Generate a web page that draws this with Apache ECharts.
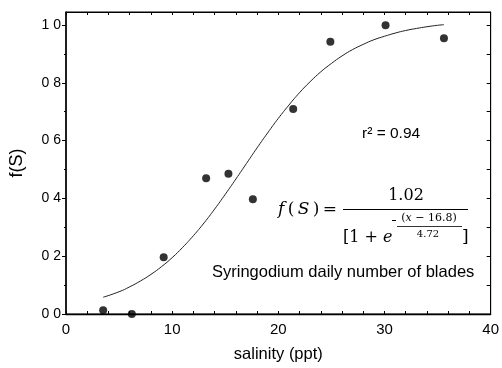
<!DOCTYPE html>
<html>
<head>
<meta charset="utf-8">
<script src="https://cdn.jsdelivr.net/npm/echarts@6/dist/echarts.min.js"></script>
<style>html,body{margin:0;padding:0;background:#fff}#c{width:502px;height:368px}</style>
</head>
<body>
<div id="c"></div>
<script>
// observed data points (salinity ppt, f(S))
const salinity = [3.5, 6.2, 9.2, 13.2, 15.3, 17.6, 21.4, 24.9, 30.1, 35.6];
const fS = [0.013, 0.0, 0.196, 0.47, 0.485, 0.397, 0.709, 0.942, 0.999, 0.954];
// fitted curve
const curveX = [3.5, 5, 6, 7, 8, 9, 10, 11, 12, 13, 14, 15, 16, 17, 18, 19, 20, 21, 22, 23, 24, 25, 26, 27, 28, 29, 30, 31, 32, 33, 34, 35, 35.6];
const curveY = [0.058, 0.077, 0.094, 0.114, 0.137, 0.164, 0.195, 0.231, 0.271, 0.315, 0.363, 0.414, 0.467, 0.521, 0.575, 0.627, 0.677, 0.723, 0.766, 0.804, 0.838, 0.867, 0.893, 0.915, 0.933, 0.949, 0.961, 0.972, 0.981, 0.988, 0.994, 0.999, 1.001];
const xTicks = [0, 10, 20, 30, 40];
const yTicks = [0, 0.2, 0.4, 0.6, 0.8, 1.0];
const yAllTicks = [0, 0.1, 0.2, 0.3, 0.4, 0.5, 0.6, 0.7, 0.8, 0.9, 1.0];
const yLabelText = ['0 0', '0 2', '0 4', '0 6', '0 8', '1 0'];

const chart = echarts.init(document.getElementById('c'));
const FONT = 'Liberation Sans';
const MATH = 'DejaVu Serif';
const blk = {color: '#000', width: 1};
const curveData = curveX.map((x, i) => [x, curveY[i]]);
const ptData = salinity.map((x, i) => [x, fS[i]]);

chart.setOption({
  animation: false,
  backgroundColor: '#fff',
  grid: {left: 62, right: 7, top: 12, bottom: 53, containLabel: false,
    show: true, borderColor: '#000', borderWidth: 1, backgroundColor: 'transparent'},
  xAxis: [
    {type: 'value', position: 'bottom', min: 0, max: 40, interval: 10,
      axisLine: {show: true, onZero: false, lineStyle: {color: '#000', width: 1.3}}, splitLine: {show: false},
      axisTick: {show: true, inside: true, length: 3, lineStyle: {color: '#000'}},
      minorTick: {show: true, splitNumber: 5, length: 3, lineStyle: {color: '#000'}},
      axisLabel: {color: '#000', fontFamily: FONT, fontSize: 15, margin: 8,
        customValues: xTicks, formatter: v => String(Math.round(v))},
      name: 'salinity (ppt)', nameLocation: 'middle', nameGap: 32,
      nameTextStyle: {color: '#000', fontFamily: FONT, fontSize: 16.5}},
    {type: 'value', position: 'top', min: 0, max: 40, interval: 2,
      axisLine: {show: true, onZero: false, lineStyle: blk}, splitLine: {show: false},
      axisTick: {show: true, inside: true, length: 3, lineStyle: {color: '#000'}},
      axisLabel: {show: false}}
  ],
  yAxis: [
    {type: 'value', position: 'left', min: 0, max: 1.045, interval: 0.2,
      axisLine: {show: true, onZero: false, lineStyle: {color: '#000', width: 1.5}}, splitLine: {show: false},
      axisTick: {show: true, inside: false, length: 4, customValues: yTicks, lineStyle: {color: '#000'}},
      minorTick: {show: true, splitNumber: 2, length: 2, lineStyle: {color: '#000'}},
      axisLabel: {color: '#000', fontFamily: FONT, fontSize: 14, margin: 5,
        customValues: yTicks,
        formatter: v => yLabelText[Math.round(v * 5)] || ''},
      name: 'f(S)', nameLocation: 'middle', nameGap: 40, nameRotate: 90,
      nameTextStyle: {color: '#000', fontFamily: FONT, fontSize: 18}},
    {type: 'value', position: 'right', min: 0, max: 1.045, interval: 0.1,
      axisLine: {show: true, onZero: false, lineStyle: blk}, splitLine: {show: false},
      axisTick: {show: true, inside: true, length: 4, customValues: yAllTicks, lineStyle: {color: '#000'}},
      axisLabel: {show: false}}
  ],
  series: [
    {type: 'line', data: curveData, smooth: true, showSymbol: false, symbol: 'none',
      lineStyle: {color: '#222', width: 1}, clip: false, z: 2},
    {type: 'scatter', data: ptData, symbol: 'circle', symbolSize: 8,
      itemStyle: {color: '#000'}, clip: false, z: 3}
  ],
  graphic: [
    {type: 'text', x: 362, y: 134, style: {text: 'r\u00B2 = 0.94', fontFamily: FONT, fontSize: 15.5, fill: '#000', verticalAlign: 'middle', textAlign: 'left'}},
    {type: 'text', x: 278, y: 210, style: {
      text: '{i|f}\u2009(\u2009{i|S}\u2009)\u2009=', fontFamily: MATH, fontSize: 17, fill: '#000', verticalAlign: 'middle', textAlign: 'left',
      rich: {i: {fontFamily: MATH, fontStyle: 'italic', fontSize: 17, fill: '#000'}}}},
    {type: 'text', x: 406, y: 196, style: {text: '1.02', fontFamily: MATH, fontSize: 16, fill: '#000', verticalAlign: 'middle', textAlign: 'center'}},
    {type: 'line', shape: {x1: 343, y1: 209.5, x2: 468, y2: 209.5}, style: {stroke: '#000', lineWidth: 1}},
    {type: 'text', x: 343, y: 238, style: {
      text: '[1 + {i|e}', fontFamily: MATH, fontSize: 16, fill: '#000', verticalAlign: 'middle', textAlign: 'left',
      rich: {i: {fontFamily: MATH, fontStyle: 'italic', fontSize: 16, fill: '#000'}}}},
    {type: 'line', shape: {x1: 392, y1: 220.5, x2: 396, y2: 220.5}, style: {stroke: '#000', lineWidth: 1}},
    {type: 'text', x: 429, y: 218, style: {
      text: '({i|x} \u2212 16.8)', fontFamily: MATH, fontSize: 11, fill: '#000', verticalAlign: 'middle', textAlign: 'center',
      rich: {i: {fontFamily: MATH, fontStyle: 'italic', fontSize: 11, fill: '#000'}}}},
    {type: 'line', shape: {x1: 397, y1: 226.5, x2: 462, y2: 226.5}, style: {stroke: '#000', lineWidth: 0.8}},
    {type: 'text', x: 428, y: 234, style: {text: '4.72', fontFamily: MATH, fontSize: 10, fill: '#000', verticalAlign: 'middle', textAlign: 'center'}},
    {type: 'text', x: 462, y: 238, style: {text: ']', fontFamily: MATH, fontSize: 17, fill: '#000', verticalAlign: 'middle', textAlign: 'left'}},
    {type: 'text', x: 212, y: 272, style: {text: 'Syringodium daily number of blades', fontFamily: FONT, fontSize: 16.5, fill: '#000', verticalAlign: 'middle', textAlign: 'left'}}
  ]
});
</script>
</body>
</html>
